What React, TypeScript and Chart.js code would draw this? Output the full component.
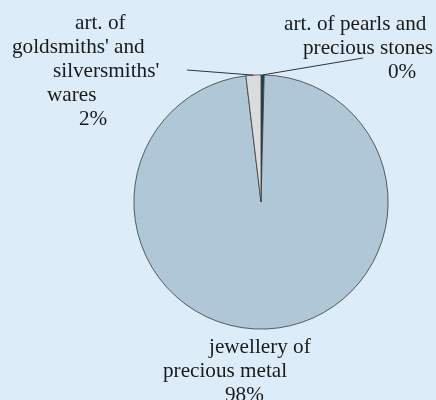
import React, { useEffect, useRef } from "react";
import { Chart, registerables } from "chart.js";

Chart.register(...registerables);

// Slices in drawing order, clockwise from 12 o'clock
const categories = [
  ["art. of pearls and", "precious stones"],
  ["jewellery of", "precious metal"],
  ["art. of", "goldsmiths' and", "silversmiths'", "wares"],
];
const shares = [0.4, 97.7, 1.9];
const sliceColors = ["#0d4b63", "#afc7d7", "#dcdcdc"];

// Label placement relative to the pie centre: first baseline, per-line left offsets, leader elbow
const labelLayout = [
  { dy: -172, xs: [23, 42, 127], leader: [102, -144] },
  { dy: 150.5, xs: [-52, -98, -36], leader: null },
  { dy: -173.5, xs: [-186, -249, -208, -214, -182], leader: [-74, -132] },
];
const LINE_H = 24;

const labelPlugin = {
  id: "sliceLabels",
  afterDatasetsDraw(chart: any) {
    const ctx = chart.ctx;
    const meta = chart.getDatasetMeta(0);
    const data = chart.data.datasets[0].data as number[];
    const total = data.reduce((a, b) => a + b, 0);
    ctx.save();
    meta.data.forEach((arc: any, i: number) => {
      const { x, y, startAngle, endAngle, outerRadius } = arc.getProps(
        ["x", "y", "startAngle", "endAngle", "outerRadius"],
        true
      );
      const lay = labelLayout[i];
      const mid = (startAngle + endAngle) / 2;
      if (lay.leader) {
        ctx.beginPath();
        ctx.strokeStyle = "#333333";
        ctx.lineWidth = 1;
        ctx.moveTo(x + Math.cos(mid) * outerRadius, y + Math.sin(mid) * outerRadius);
        ctx.lineTo(x + lay.leader[0], y + lay.leader[1]);
        ctx.stroke();
      }
      const lines = [...categories[i], Math.round((data[i] / total) * 100) + "%"];
      ctx.fillStyle = "#1a1a1a";
      ctx.font = '21.2px "Liberation Serif", "DejaVu Serif", serif';
      ctx.textAlign = "left";
      ctx.textBaseline = "alphabetic";
      lines.forEach((t, k) => {
        ctx.fillText(t, x + lay.xs[k], y + lay.dy + k * LINE_H);
      });
    });
    ctx.restore();
  },
};

export default function App() {
  const ref = useRef<HTMLCanvasElement>(null);
  useEffect(() => {
    document.body.style.margin = "0";
    const chart = new Chart(ref.current!, {
      type: "pie",
      data: {
        labels: categories.map((c) => c.join(" ")),
        datasets: [
          {
            data: shares,
            backgroundColor: sliceColors,
            borderColor: "#3a3a3a",
            borderWidth: 0.8,
          },
        ],
      },
      options: {
        responsive: false,
        animation: false,
        devicePixelRatio: 1,
        layout: { padding: { left: 133.5, right: 47.5, top: 74.5, bottom: 70.5 } },
        plugins: { legend: { display: false }, tooltip: { enabled: false } },
      },
      plugins: [labelPlugin],
    });
    return () => chart.destroy();
  }, []);
  return (
    <div style={{ width: 436, height: 400, background: "#dcecf9" }}>
      <canvas ref={ref} width={436} height={400} />
    </div>
  );
}
